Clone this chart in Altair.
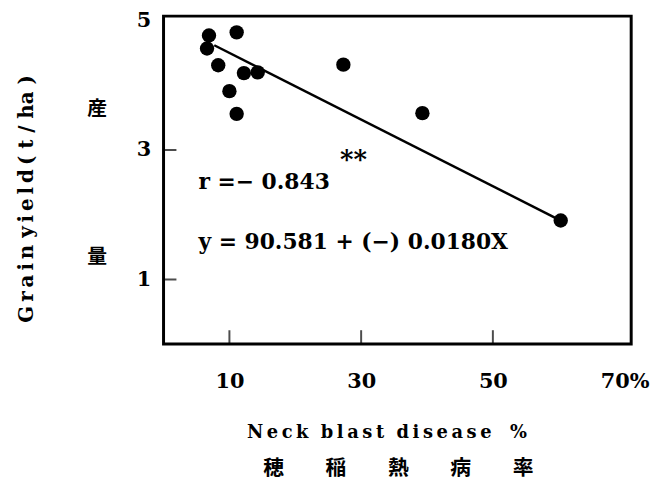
import altair as alt
import pandas as pd

# Observed points (neck blast %, grain yield t/ha)
blast = [6.9, 11.1, 6.6, 8.3, 12.2, 14.3, 10.0, 11.1, 27.3, 39.3, 60.3]
yield_t = [4.77, 4.82, 4.57, 4.31, 4.19, 4.20, 3.91, 3.56, 4.32, 3.57, 1.91]

# Regression line endpoints
fit_x = [7.7, 60.3]
fit_y = [4.62, 1.91]

x_tick_vals = [10, 30, 50]
y_tick_vals = [1, 3]
x_label_vals = [10, 30, 50, 70]
y_label_vals = [1, 3, 5]

ann_text = ["r =\u2212 0.843", "y = 90.581 + (\u2212) 0.0180X"]
ann_x = [5.3, 5.3]
ann_y = [2.50, 1.58]
star_text = ["**"]
star_x = [26.8]
star_y = [2.84]

SERIF = "'DejaVu Serif', 'Noto Sans CJK JP', serif"
CJK = "'Noto Sans CJK JP', sans-serif"

W, H = 472, 331
xs = alt.Scale(domain=[0, 71], nice=False, zero=False)
ys = alt.Scale(domain=[0, 5.07], nice=False, zero=False)

pts = pd.DataFrame({"x": blast, "y": yield_t})
fit = pd.DataFrame({"x": fit_x, "y": fit_y})
ann = pd.DataFrame({"x": ann_x, "y": ann_y, "t": ann_text})
star = pd.DataFrame({"x": star_x, "y": star_y, "t": star_text})
xt = pd.DataFrame({"v": x_tick_vals})
yt = pd.DataFrame({"v": y_tick_vals})

nb = "\u00a0"
thin = "\u2009"
ytitle = (thin.join(list("Grain")) + nb + thin.join(list("yield")) + thin
          + "(" + nb + "t" + nb + "/" + nb + "ha" + nb + ")")
xtitle1 = thin.join(list("Neck")) + nb + nb + thin.join(list("blast")) + nb + nb + thin.join(list("disease")) + nb + nb + nb + "%"
xtitle2 = "穂\u3000\u3000稲\u3000\u3000熱\u3000\u3000病\u3000\u3000率"

x_axis = alt.Axis(
    values=x_label_vals,
    labelExpr="datum.value == 70 ? '70%' : datum.label",
    labelFont=SERIF, labelFontSize=21, labelFontWeight="bold", labelPadding=27, labelColor="black",
    title=xtitle1, titleFont=SERIF, titleFontSize=18, titleFontWeight="bold",
    titleColor="black", titleX=225, titleAlign="center", titleY=94, titleBaseline="alphabetic",
    domain=False, ticks=False, grid=False, labelFlush=False, labelOverlap=False,
)
y_axis = alt.Axis(
    values=y_label_vals, format="d",
    labelFont=SERIF, labelFontSize=21, labelFontWeight="bold", labelPadding=13, labelColor="black",
    title=ytitle, titleFont=SERIF, titleFontSize=20, titleFontWeight="bold",
    titleColor="black", titleX=-138, titleY=184, titleAngle=270,
    titleAlign="center", titleBaseline="middle",
    domain=False, ticks=False, grid=False, labelFlush=False, labelOverlap=False,
)

base_pts = alt.Chart(pts).mark_circle(size=210, color="black", opacity=1).encode(
    x=alt.X("x:Q", scale=xs, axis=x_axis),
    y=alt.Y("y:Q", scale=ys, axis=y_axis),
)
line = alt.Chart(fit).mark_line(color="black", strokeWidth=2.5).encode(
    x=alt.X("x:Q", scale=xs), y=alt.Y("y:Q", scale=ys)
)
xticks = alt.Chart(xt).mark_tick(orient="vertical", color="black", size=28, thickness=2, clip=True).encode(
    x=alt.X("v:Q", scale=xs), y=alt.value(H)
)
yticks = alt.Chart(yt).mark_tick(orient="horizontal", color="black", size=26, thickness=2, clip=True).encode(
    y=alt.Y("v:Q", scale=ys), x=alt.value(0)
)
anns = alt.Chart(ann).mark_text(align="left", baseline="middle", font=SERIF, fontSize=22,
                                fontWeight="bold", color="black").encode(
    x=alt.X("x:Q", scale=xs), y=alt.Y("y:Q", scale=ys), text="t:N"
)
stars = alt.Chart(star).mark_text(align="left", baseline="middle", font=SERIF, fontSize=26,
                                  fontWeight="bold", color="black").encode(
    x=alt.X("x:Q", scale=xs), y=alt.Y("y:Q", scale=ys), text="t:N"
)
k1 = alt.Chart(pd.DataFrame({"t": ["産"]})).mark_text(font=CJK, fontSize=20, fontWeight="bold",
                                                       color="black").encode(
    x=alt.value(-67), y=alt.value(94), text="t:N"
)
k2 = alt.Chart(pd.DataFrame({"t": ["量"]})).mark_text(font=CJK, fontSize=20, fontWeight="bold",
                                                       color="black").encode(
    x=alt.value(-67), y=alt.value(243), text="t:N"
)
k3 = alt.Chart(pd.DataFrame({"t": [xtitle2]})).mark_text(font=CJK, fontSize=21, fontWeight="bold",
                                                          color="black").encode(
    x=alt.value(237), y=alt.value(457), text="t:N"
)

chart = alt.layer(base_pts, line, xticks, yticks, anns, stars, k1, k2, k3).properties(
    width=W, height=H,
    autosize=alt.AutoSizeParams(type="none"),
    padding={"left": 157, "top": 6, "right": 20, "bottom": 137},
    background="white",
).configure_view(stroke="black", strokeWidth=3)

chart.save("out.html", embed_options={"renderer": "svg", "actions": False})
